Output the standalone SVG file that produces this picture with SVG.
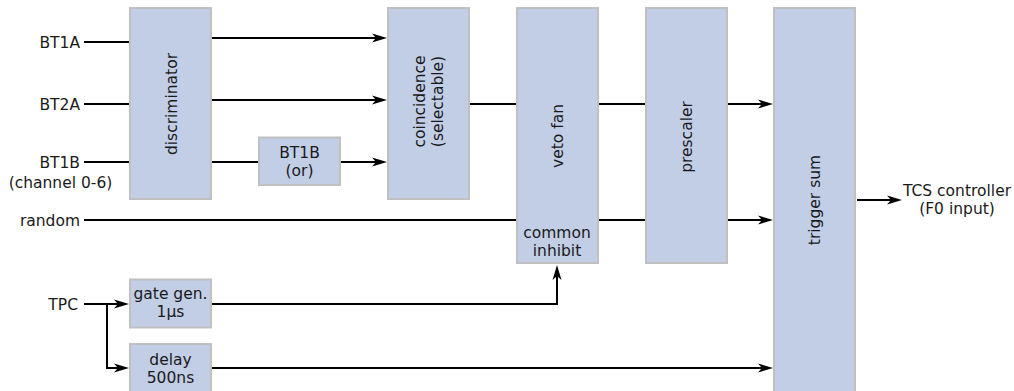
<svg xmlns="http://www.w3.org/2000/svg" width="1014" height="391" viewBox="0 0 1014 391">
<style>
.box{fill:#c2cde6;stroke:#c0c0c0;stroke-width:2}
.ln{fill:none;stroke:#000;stroke-width:2}
.arr{marker-end:url(#ah)}
text{font-family:"DejaVu Sans",sans-serif;font-size:15.5px;fill:#1a1a1a}
.m{text-anchor:middle}
.e{text-anchor:end}
</style>
<defs>
<marker id="ah" markerUnits="userSpaceOnUse" viewBox="-13 -5 17 10" markerWidth="17" markerHeight="10" refX="0" refY="0" orient="auto">
<path d="M3,0 L-12,-4.5 L-8,0 L-12,4.5 Z" fill="#000"/>
</marker>
</defs>
<rect width="1014" height="391" fill="#fff"/>
<g id="connectors">
<path class="ln" d="M84,42 H131"/>
<path class="ln arr" d="M212,38 H384"/>
<path class="ln" d="M84,104 H131"/>
<path class="ln arr" d="M212,100 H384"/>
<path class="ln" d="M84,162 H260"/>
<path class="ln arr" d="M341,162 H384"/>
<path class="ln arr" d="M469,104 H770"/>
<path class="ln arr" d="M84,220 H770"/>
<path class="ln" d="M84,304 H107"/>
<path class="ln arr" d="M107,304 H126"/>
<path class="ln arr" d="M107,303 V368 H126"/>
<path class="ln arr" d="M212,304 H557 V268"/>
<path class="ln arr" d="M212,368 H770"/>
<path class="ln arr" d="M857,200 H899"/>
</g>
<g id="in-labels">
<text class="e" x="80" y="47.5">BT1A</text>
<text class="e" x="80" y="109.5">BT2A</text>
<text class="e" x="80" y="167.5">BT1B</text>
<text class="m" x="60.5" y="188">(channel 0-6)</text>
<text class="e" x="80" y="225.5">random</text>
<text class="e" x="78" y="309.5">TPC</text>
</g>
<g id="discriminator">
<rect class="box" x="130" y="8" width="81" height="191"/>
<text class="m" transform="translate(171,104) rotate(-90)" y="5.5">discriminator</text>
</g>
<g id="bt1b-or">
<rect class="box" x="259" y="137.5" width="81" height="47.5"/>
<text class="m" x="299.5" y="157.5">BT1B</text>
<text class="m" x="299.5" y="176">(or)</text>
</g>
<g id="coincidence">
<rect class="box" x="388" y="8" width="81" height="191"/>
<g transform="translate(428.5,101.5) rotate(-90)">
<text class="m" y="-3.5">coincidence</text>
<text class="m" y="14.5">(selectable)</text>
</g>
</g>
<g id="veto-fan">
<rect class="box" x="517" y="8" width="81" height="255"/>
<text class="m" transform="translate(557,136) rotate(-90)" y="5.5">veto fan</text>
<text class="m" x="557" y="237.5">common</text>
<text class="m" x="557" y="256">inhibit</text>
</g>
<g id="prescaler">
<rect class="box" x="646" y="8" width="81" height="255"/>
<text class="m" transform="translate(686.5,137) rotate(-90)" y="5.5">prescaler</text>
</g>
<g id="trigger-sum">
<rect class="box" x="774" y="8" width="81" height="400"/>
<text class="m" transform="translate(814.5,200) rotate(-90)" y="5.5">trigger sum</text>
</g>
<g id="gate-gen">
<rect class="box" x="130" y="279.5" width="81" height="48"/>
<text class="m" x="170.5" y="299">gate gen.</text>
<text class="m" x="170.5" y="317">1µs</text>
</g>
<g id="delay">
<rect class="box" x="130" y="344" width="81" height="60"/>
<text class="m" x="170.5" y="365">delay</text>
<text class="m" x="170.5" y="383">500ns</text>
</g>
<g id="tcs-controller">
<text class="m" x="957" y="196">TCS controller</text>
<text class="m" x="957" y="213.5">(F0 input)</text>
</g>
</svg>
